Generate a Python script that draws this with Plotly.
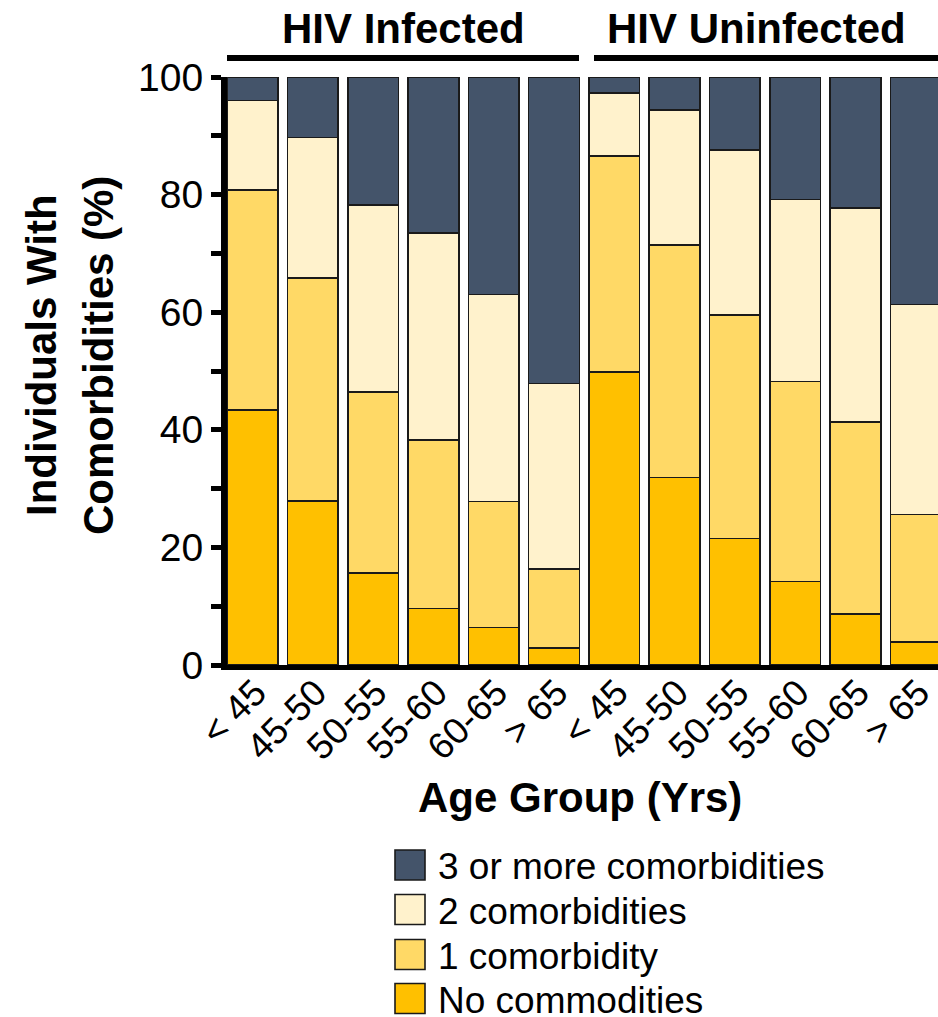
import plotly.graph_objects as go

# ---------------- data ----------------
age_labels = ["< 45", "45-50", "50-55", "55-60", "60-65", "> 65",
              "< 45", "45-50", "50-55", "55-60", "60-65", "> 65"]
group_names = ["HIV Infected", "HIV Uninfected"]
no_comorb = [43.4, 27.9, 15.6, 9.6, 6.4, 2.9, 49.8, 31.9, 21.5, 14.2, 8.7, 3.9]
one_comorb = [37.4, 37.9, 30.8, 28.7, 21.4, 13.4, 36.8, 39.5, 38.0, 34.0, 32.6, 21.7]
two_comorb = [15.2, 23.9, 31.8, 35.2, 35.2, 31.6, 10.7, 23.0, 28.1, 31.0, 36.4, 35.7]
three_comorb = [4.0, 10.3, 21.8, 26.5, 37.0, 52.1, 2.7, 5.6, 12.4, 20.8, 22.3, 38.7]
series_names = ["No commodities", "1 comorbidity", "2 comorbidities", "3 or more comorbidities"]
y_ticks = [0, 10, 20, 30, 40, 50, 60, 70, 80, 90, 100]

# ---------------- styling / geometry ----------------
W, H = 938, 1017
ML, MR, MT, MB = 222, 0, 77, 352
PW, PH = W - ML - MR, H - MT - MB
C0, PITCH = 252.5, 60.3          # pixel of category 0, pixel per category
FONT = "Liberation Sans, Arial, sans-serif"
colors = ["#FFC000", "#FFD966", "#FFF2CC", "#44546A"]


def px2x(px):
    return (px - C0) / PITCH


def pxp(px):
    return (px - ML) / PW


def pyp(py):
    return (MT + PH - py) / PH


xs = list(range(len(age_labels)))
fig = go.Figure()
for name, vals, col in zip(series_names, [no_comorb, one_comorb, two_comorb, three_comorb], colors):
    fig.add_trace(go.Bar(
        x=xs, y=vals, name=name, width=0.84,
        marker=dict(color=col, line=dict(color="#1a1a1a", width=1.6)),
        showlegend=False,
    ))

main_left = 227
fig.update_layout(
    width=W, height=H, barmode="stack",
    margin=dict(l=ML, r=MR, t=MT, b=MB, pad=0, autoexpand=False),
    paper_bgcolor="white", plot_bgcolor="rgba(0,0,0,0)",
    font=dict(family=FONT, color="black"),
    xaxis=dict(
        domain=[pxp(main_left), 1], range=[px2x(main_left), px2x(W)],
        tickmode="array", tickvals=xs, ticktext=age_labels,
        ticks="", tickangle=-45, tickfont=dict(size=37, family=FONT),
        ticklabelshift=3, ticklabelstandoff=-14, ticklabeloverflow="allow",
        automargin=False,
        showline=True, linewidth=5, linecolor="black",
        showgrid=False, zeroline=False, fixedrange=True,
    ),
    xaxis2=dict(
        domain=[0, 1], range=[px2x(ML), px2x(W)], anchor="y",
        tickmode="array", tickvals=[i - 0.5 for i in xs],
        ticks="outside", ticklen=14, tickwidth=5, tickcolor="black",
        showticklabels=False, showline=False, showgrid=False, zeroline=False,
        automargin=False, fixedrange=True,
    ),
    yaxis=dict(
        anchor="x", range=[0, 100],
        tickmode="array", tickvals=y_ticks,
        ticktext=[str(v) if v % 20 == 0 else "" for v in y_ticks],
        ticks="outside", ticklen=10, tickwidth=5, tickcolor="black",
        tickfont=dict(size=39, family=FONT),
        showline=True, linewidth=6, linecolor="black",
        showgrid=False, zeroline=False, fixedrange=True, automargin=False,
    ),
)

shapes = []
anns = []
# group headers
for (x0p, x1p, cx), name in zip([(227, 579, 403.5), (594, 940, 756)], group_names):
    shapes.append(dict(type="line", xref="paper", yref="paper",
                       x0=pxp(x0p), x1=pxp(x1p), y0=pyp(58), y1=pyp(58),
                       line=dict(color="black", width=6)))
    anns.append(dict(text="<b>%s</b>" % name, xref="paper", yref="paper",
                     x=pxp(cx), y=pyp(28), xanchor="center", yanchor="middle",
                     showarrow=False, font=dict(size=42, family=FONT, color="black")))

# axis titles
anns.append(dict(text="<b>Age Group (Yrs)</b>", xref="paper", yref="paper",
                 x=pxp(580), y=pyp(797), xanchor="center", yanchor="middle",
                 showarrow=False, font=dict(size=42, family=FONT, color="black")))
for txt, cx in [("Individuals With", 41), ("Comorbidities (%)", 98)]:
    anns.append(dict(text="<b>%s</b>" % txt, xref="paper", yref="paper",
                     x=pxp(cx), y=pyp(355), xanchor="center", yanchor="middle",
                     textangle=-90, showarrow=False,
                     font=dict(size=42, family=FONT, color="black")))

# legend (top to bottom: 3+, 2, 1, none)
leg_rows = [865, 909.5, 954.5, 998.5]
for i, row in enumerate(leg_rows):
    k = len(series_names) - 1 - i
    shapes.append(dict(type="rect", xref="paper", yref="paper",
                       x0=pxp(395), x1=pxp(425), y0=pyp(row - 15), y1=pyp(row + 15),
                       fillcolor=colors[k], line=dict(color="#1a1a1a", width=1.6)))
    anns.append(dict(text=series_names[k], xref="paper", yref="paper",
                     x=pxp(436), y=pyp(row + 1.5), xanchor="left", yanchor="middle",
                     showarrow=False, font=dict(size=37, family=FONT, color="black")))

fig.update_layout(shapes=shapes, annotations=anns)
fig.write_html("out.html")
